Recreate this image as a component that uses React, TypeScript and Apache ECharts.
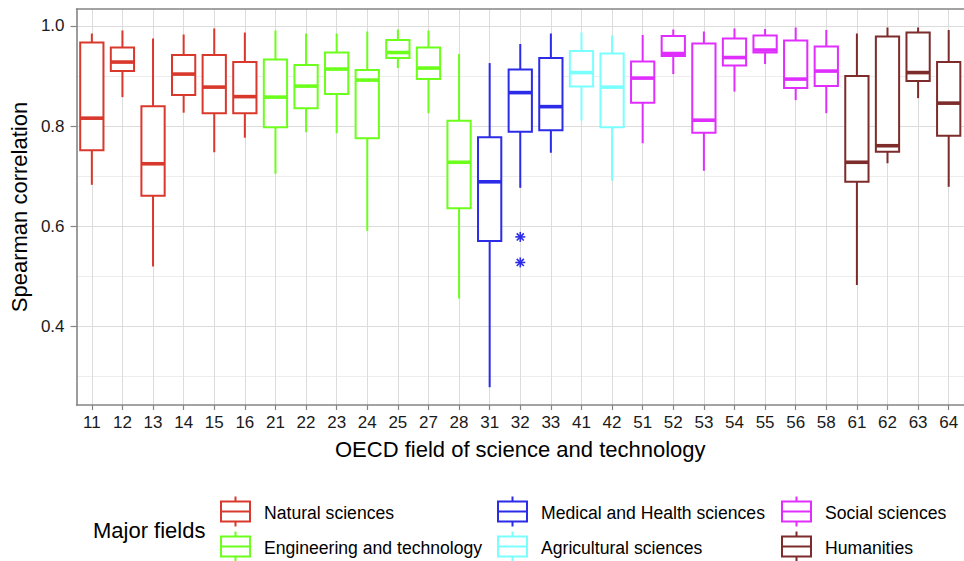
import React, { useEffect, useRef } from "react";
import * as echarts from "echarts";

// ---------- data ----------
const categories = ["11","12","13","14","15","16","21","22","23","24","25","27","28","31","32","33","41","42","51","52","53","54","55","56","58","61","62","63","64"];
const fields = ["Natural sciences","Engineering and technology","Medical and Health sciences","Agricultural sciences","Social sciences","Humanities"];
const fieldColors = ["#D9382C","#6CFF1C","#2B2BE8","#7AFFFF","#E02EFF","#7D2B2B"];
const fieldIndex = [0,0,0,0,0,0,1,1,1,1,1,1,1,2,2,2,3,3,4,4,4,4,4,4,4,5,5,5,5];
const whiskerHigh = [0.985,0.991,0.975,0.983,0.995,0.987,0.991,0.985,0.985,0.989,0.993,0.991,0.944,0.926,0.964,0.985,0.987,0.981,0.982,0.993,0.989,0.995,0.994,0.997,0.992,0.985,0.997,0.997,0.992];
const q3 = [0.967,0.957,0.840,0.942,0.942,0.928,0.933,0.922,0.947,0.912,0.972,0.957,0.811,0.778,0.913,0.936,0.950,0.945,0.929,0.980,0.965,0.975,0.981,0.971,0.959,0.900,0.979,0.987,0.928];
const median = [0.816,0.928,0.725,0.904,0.878,0.859,0.858,0.880,0.914,0.892,0.947,0.916,0.728,0.689,0.867,0.839,0.907,0.878,0.896,0.945,0.812,0.937,0.952,0.894,0.910,0.728,0.761,0.907,0.846];
const q1 = [0.752,0.910,0.661,0.862,0.826,0.826,0.798,0.836,0.864,0.776,0.936,0.894,0.636,0.571,0.789,0.792,0.879,0.798,0.847,0.940,0.787,0.921,0.947,0.876,0.880,0.689,0.749,0.890,0.781];
const whiskerLow = [0.683,0.858,0.520,0.827,0.748,0.777,0.705,0.788,0.786,0.591,0.916,0.826,0.456,0.279,0.677,0.747,0.811,0.691,0.766,0.904,0.711,0.869,0.924,0.852,0.826,0.483,0.726,0.856,0.679];
const outlierCategory = ["32","32"];
const outlierValue = [0.579,0.528];
const yTickValues = [0.4,0.6,0.8,1.0];
const yMinorValues = [0.3,0.5,0.7,0.9];

// ---------- layout ----------
const FONT = "'Liberation Sans', Arial, Helvetica, sans-serif";
const Y_MIN = 0.2435;
const Y_MAX = 1.0339;
const BORDER = "#858585";

function boxRenderer(color: string) {
  return (params: any, api: any) => {
    const i = api.value(0);
    const pLo = api.coord([i, api.value(1)]);
    const pQ1 = api.coord([i, api.value(2)]);
    const pMed = api.coord([i, api.value(3)]);
    const pQ3 = api.coord([i, api.value(4)]);
    const pHi = api.coord([i, api.value(5)]);
    const cx = pMed[0];
    const bw = api.size([1, 0])[0] * 0.76;
    return {
      type: "group",
      children: [
        { type: "line", shape: { x1: cx, y1: pHi[1], x2: cx, y2: pQ3[1] }, style: { stroke: color, lineWidth: 2 } },
        { type: "line", shape: { x1: cx, y1: pQ1[1], x2: cx, y2: pLo[1] }, style: { stroke: color, lineWidth: 2 } },
        { type: "rect", shape: { x: cx - bw / 2, y: pQ3[1], width: bw, height: pQ1[1] - pQ3[1] }, style: { fill: "#ffffff", stroke: color, lineWidth: 2 } },
        { type: "line", shape: { x1: cx - bw / 2, y1: pMed[1], x2: cx + bw / 2, y2: pMed[1] }, style: { stroke: color, lineWidth: 3.6 } },
      ],
    };
  };
}

function outlierRenderer(params: any, api: any) {
  const p = api.coord([api.value(0), api.value(1)]);
  const color = fieldColors[fieldIndex[api.value(0)]];
  const r = 5;
  const d = r * 0.7071;
  const st = { stroke: color, lineWidth: 1.6 };
  return {
    type: "group",
    children: [
      { type: "line", shape: { x1: p[0] - r, y1: p[1], x2: p[0] + r, y2: p[1] }, style: st },
      { type: "line", shape: { x1: p[0], y1: p[1] - r, x2: p[0], y2: p[1] + r }, style: st },
      { type: "line", shape: { x1: p[0] - d, y1: p[1] - d, x2: p[0] + d, y2: p[1] + d }, style: st },
      { type: "line", shape: { x1: p[0] - d, y1: p[1] + d, x2: p[0] + d, y2: p[1] - d }, style: st },
    ],
  };
}

function legendGraphic() {
  const colX = [221, 498, 782];
  const rowTop = [501.5, 536.5];
  const children: any[] = [
    { type: "text", x: 93, y: 530, style: { text: "Major fields", fontSize: 22, fontFamily: FONT, fill: "#000", verticalAlign: "middle", align: "left" } },
  ];
  fields.forEach((f, k) => {
    const col = Math.floor(k / 2);
    const row = k % 2;
    const x = colX[col];
    const y = rowTop[row];
    const c = fieldColors[k];
    const w = 29, h = 20;
    children.push(
      { type: "line", shape: { x1: x + w / 2, y1: y - 5, x2: x + w / 2, y2: y }, style: { stroke: c, lineWidth: 2 } },
      { type: "line", shape: { x1: x + w / 2, y1: y + h, x2: x + w / 2, y2: y + h + 5 }, style: { stroke: c, lineWidth: 2 } },
      { type: "rect", shape: { x, y, width: w, height: h }, style: { fill: "#fff", stroke: c, lineWidth: 2 } },
      { type: "line", shape: { x1: x, y1: y + h / 2, x2: x + w, y2: y + h / 2 }, style: { stroke: c, lineWidth: 2 } },
      { type: "text", x: x + 43, y: y + h / 2 + 1, style: { text: f, fontSize: 17.6, fontFamily: FONT, fill: "#000", verticalAlign: "middle", align: "left" } }
    );
  });
  return children;
}

export default function App() {
  const ref = useRef<HTMLDivElement>(null);
  useEffect(() => {
    if (!ref.current) return;
    const chart = echarts.init(ref.current, null, { renderer: "svg" });
    const boxSeries = fields.map((f, k) => ({
      type: "custom",
      name: f,
      xAxisIndex: 0,
      yAxisIndex: 0,
      renderItem: boxRenderer(fieldColors[k]),
      encode: { x: 0, y: [1, 2, 3, 4, 5] },
      itemStyle: { color: fieldColors[k] },
      data: categories
        .map((c, i) => ({ i, c }))
        .filter((o) => fieldIndex[o.i] === k)
        .map((o) => [o.i, whiskerLow[o.i], q1[o.i], median[o.i], q3[o.i], whiskerHigh[o.i]]),
      z: 3,
    }));
    const outlierSeries = {
      type: "custom",
      name: "outliers",
      xAxisIndex: 0,
      yAxisIndex: 0,
      renderItem: outlierRenderer,
      encode: { x: 0, y: 1 },
      data: outlierCategory.map((c, j) => [categories.indexOf(c), outlierValue[j]]),
      z: 4,
    };
    chart.setOption({
      animation: false,
      backgroundColor: "#ffffff",
      textStyle: { fontFamily: FONT },
      grid: { left: 74.6, top: 9, width: 892, height: 396, containLabel: false },
      xAxis: [
        {
          type: "category",
          data: categories,
          boundaryGap: true,
          position: "bottom",
          axisLine: { show: true, onZero: false, lineStyle: { color: BORDER, width: 1.6 } },
          axisTick: { show: true, alignWithLabel: true, length: 5, lineStyle: { color: BORDER, width: 1.2 } },
          axisLabel: { interval: 0, fontSize: 17, color: "#1a1a1a", margin: 9, fontFamily: FONT },
          splitLine: { show: false },
          name: "OECD field of science and technology",
          nameLocation: "middle",
          nameGap: 33,
          nameTextStyle: { fontSize: 22, color: "#000", fontFamily: FONT },
        },
        {
          type: "value",
          min: -0.5,
          max: 28.5,
          position: "top",
          axisLine: { show: true, onZero: false, lineStyle: { color: BORDER, width: 1.6 } },
          axisTick: { show: false, customValues: categories.map((_, i) => i) },
          axisLabel: { show: false, customValues: categories.map((_, i) => i) },
          splitLine: { show: true, lineStyle: { color: "#dcdcdc", width: 1 } },
        },
      ],
      yAxis: [
        {
          type: "value",
          min: Y_MIN,
          max: Y_MAX,
          axisLine: { show: true, onZero: false, lineStyle: { color: BORDER, width: 1.6 } },
          axisTick: { show: true, length: 6, customValues: yTickValues, lineStyle: { color: BORDER, width: 1.2 } },
          axisLabel: { customValues: yTickValues, formatter: (v: number) => v.toFixed(1), fontSize: 17, color: "#1a1a1a", margin: 12, fontFamily: FONT },
          splitLine: { show: true, lineStyle: { color: "#dcdcdc", width: 1 } },
          name: "Spearman correlation",
          nameLocation: "middle",
          nameGap: 46,
          nameRotate: 90,
          nameTextStyle: { fontSize: 22, color: "#000", fontFamily: FONT },
        },
        {
          type: "value",
          min: Y_MIN,
          max: Y_MAX,
          position: "left",
          axisLine: { show: false },
          axisTick: { show: false, customValues: yMinorValues },
          axisLabel: { show: false, customValues: yMinorValues },
          splitLine: { show: true, lineStyle: { color: "#ededed", width: 1 } },
        },
      ],
      series: [...boxSeries, outlierSeries],
      graphic: legendGraphic(),
    });
    return () => chart.dispose();
  }, []);
  return <div ref={ref} style={{ position: "absolute", left: 0, top: 0, width: 964, height: 561 }} />;
}
